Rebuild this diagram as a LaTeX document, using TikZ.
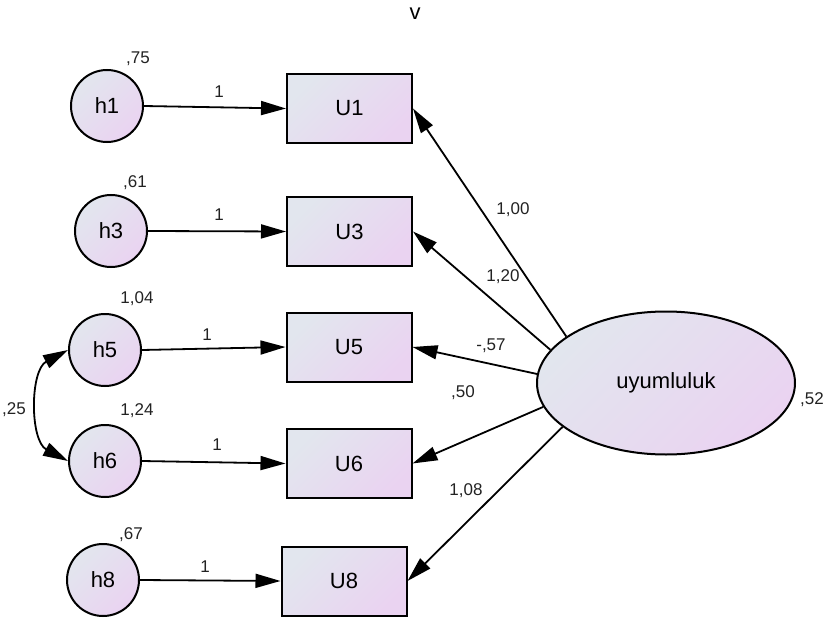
\documentclass[tikz,border=0pt]{standalone}
\usepackage{fontspec}
\setmainfont{Liberation Sans}
\usetikzlibrary{arrows.meta,shapes.geometric}
\definecolor{shadeA}{HTML}{E2E6EE}
\definecolor{shadeB}{HTML}{EAD3F1}
\definecolor{numgray}{HTML}{222222}
\tikzset{
  grad/.style={top color=shadeA, bottom color=shadeB, shading angle=45},
  errvar/.style={circle, draw, line width=2pt, grad, minimum size=72pt, inner sep=0pt, font=\fontsize{22}{24}\selectfont},
  obsbox/.style={rectangle, draw, line width=2pt, grad, minimum width=125pt, minimum height=69pt, inner sep=0pt, font=\fontsize{22}{24}\selectfont},
  latvar/.style={ellipse, draw, line width=2pt, grad, minimum width=258pt, minimum height=143pt, inner sep=0pt, font=\fontsize{22}{24}\selectfont},
  tip/.tip={Triangle[length=25pt,width=14pt]},
  path/.style={line width=1.8pt, -tip},
  num/.style={font=\fontsize{17}{19}\selectfont, text=numgray, inner sep=0pt},
}
\begin{document}
\begin{tikzpicture}[x=1pt,y=-1pt]
\useasboundingbox (0,0) rectangle (830,623);

% error terms
\node[errvar] (h1) at (107,106) {h1};
\node[errvar] (h3) at (111,231) {h3};
\node[errvar] (h5) at (105,350) {h5};
\node[errvar] (h6) at (105,461) {h6};
\node[errvar] (h8) at (103,580) {h8};

% observed items
\node[obsbox] (U1) at (349.5,108.5) {U1};
\node[obsbox] (U3) at (349.5,231.5) {U3};
\node[obsbox] (U5) at (349,347) {U5};
\node[obsbox] (U6) at (349,463.5) {U6};
\node[obsbox] (U8) at (344,581) {U8};

% latent factor
\node[latvar] (F) at (666,383) {uyumluluk};

% error paths
\draw[path] (h1.east) -- (U1.west);
\draw[path] (h3.east) -- (U3.west);
\draw[path] (h5.east) -- (U5.west);
\draw[path] (h6.east) -- (U6.west);
\draw[path] (h8.east) -- (U8.west);

% loadings
\draw[path] (F.155) -- (U1.east);
\draw[path] (F.164.4) -- (U3.east);
\draw[path] (F.176.5) -- (U5.east);
\draw[path] (F.191) -- (U6.east);
\draw[path] (F.203.4) -- (U8.east);

% covariance between h5 and h6
\draw[line width=1.8pt, tip-tip] (h5.west) to[bend right=62] (h6.west);

% parameter labels
\node[num] (v1) at (138,59) {,75};
\node[num] (v3) at (135,183) {,61};
\node[num] (v5) at (137,299) {1,04};
\node[num] (v6) at (137,411) {1,24};
\node[num] (v8) at (131,535) {,67};
\node[num] (vF) at (812,400) {,52};
\node[num] (c56) at (14,410) {,25};

\node[num] (w1) at (219,92) {1};
\node[num] (w3) at (219,215) {1};
\node[num] (w5) at (207,335) {1};
\node[num] (w6) at (217,445) {1};
\node[num] (w8) at (205,567) {1};

\node[num] (l1) at (513,210) {1,00};
\node[num] (l3) at (503,277) {1,20};
\node[num] (l5) at (491,346) {-,57};
\node[num] (l6) at (463,393) {,50};
\node[num] (l8) at (466,491) {1,08};

\node[font=\fontsize{22}{24}\selectfont, inner sep=0pt] (title) at (415,14) {v};
\end{tikzpicture}
\end{document}
